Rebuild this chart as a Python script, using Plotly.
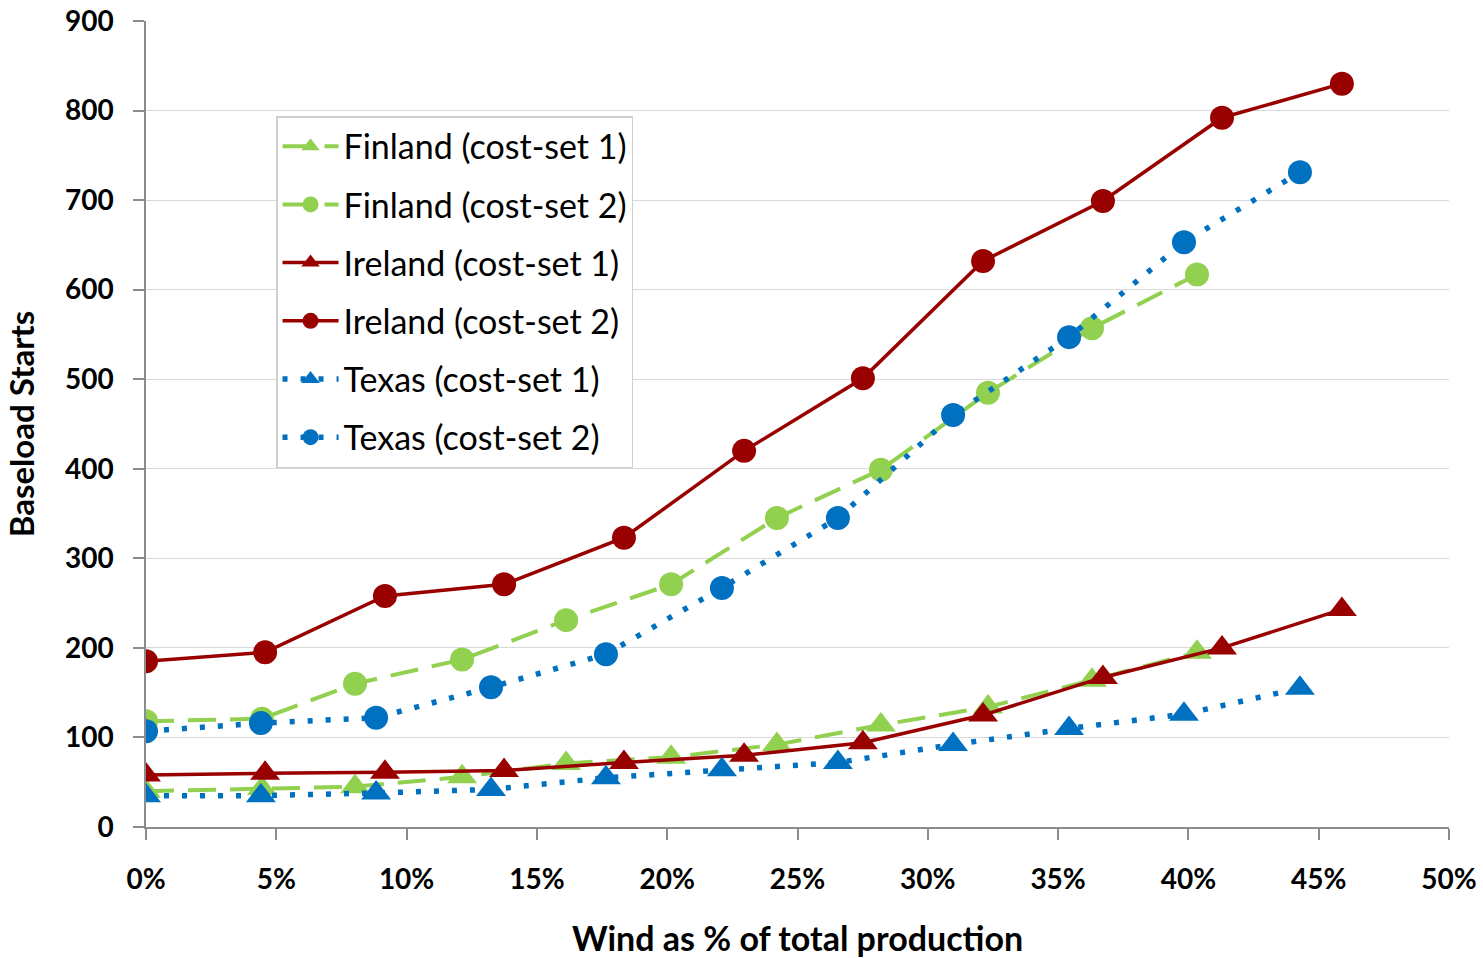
import plotly.graph_objects as go

# Wind share of total production (fraction) and baseload start counts per system
finland_x = [0.0, 0.0445, 0.0802, 0.1213, 0.1612, 0.2015, 0.2421, 0.2820, 0.3231, 0.3630, 0.4033]
finland_cs1 = [40, 43, 45, 56, 71, 78, 92, 114, 134, 164, 195]
finland_cs2 = [118, 121, 160, 187, 231, 271, 345, 399, 485, 557, 617]

ireland_x = [0.0, 0.0457, 0.0917, 0.1374, 0.1834, 0.2295, 0.2751, 0.3212, 0.3672, 0.4129, 0.4589]
ireland_cs1 = [58, 60, 61, 63, 72, 80, 94, 125, 167, 200, 243]
ireland_cs2 = [185, 195, 258, 271, 323, 420, 501, 632, 699, 792, 830]

texas_x = [0.0, 0.0441, 0.0883, 0.1324, 0.1765, 0.2210, 0.2655, 0.3097, 0.3542, 0.3983, 0.4428]
texas_cs1 = [35, 35, 38, 42, 55, 64, 72, 92, 110, 126, 155]
texas_cs2 = [107, 116, 122, 156, 193, 267, 345, 460, 547, 653, 731]

GREEN = "#92D050"
RED = "#990000"
BLUE = "#0070C0"

series = [
    ("Finland (cost-set 1)", finland_x, finland_cs1, GREEN, "triangle-up", "28px,14px", 4),
    ("Finland (cost-set 2)", finland_x, finland_cs2, GREEN, "circle", "28px,14px", 4),
    ("Ireland (cost-set 1)", ireland_x, ireland_cs1, RED, "triangle-up", "solid", 3.5),
    ("Ireland (cost-set 2)", ireland_x, ireland_cs2, RED, "circle", "solid", 3.5),
    ("Texas (cost-set 1)", texas_x, texas_cs1, BLUE, "triangle-up", "5px,13px", 5.5),
    ("Texas (cost-set 2)", texas_x, texas_cs2, BLUE, "circle", "5px,13px", 5.5),
]

fig = go.Figure()
for name, xs, ys, color, symbol, dash, width in series:
    fig.add_trace(go.Scatter(
        x=xs, y=ys, name=name, legendgroup=name,
        mode="lines+markers",
        line=dict(color=color, width=width, dash=dash),
        marker=dict(symbol=symbol, size=24 if symbol == "circle" else 26, color=color),
    ))

tick_font = dict(family="Lato", size=28, color="#000000", weight="bold")

fig.update_layout(
    width=1483, height=958,
    margin=dict(l=146, r=34, t=21, b=131),
    paper_bgcolor="white", plot_bgcolor="white",
    font=dict(family="Lato", color="#000000"),
    showlegend=True,
    legend=dict(
        x=0.0998, y=0.882, xanchor="left", yanchor="top",
        bgcolor="white", bordercolor="#D0D0D0", borderwidth=1.5,
        font=dict(family="Lato", size=34, color="#000000"),
        tracegroupgap=11, itemwidth=56,
    ),
    xaxis=dict(
        range=[0, 0.5], tickvals=[0, 0.05, 0.1, 0.15, 0.2, 0.25, 0.3, 0.35, 0.4, 0.45, 0.5],
        tickformat=".0%", showgrid=False, zeroline=False, automargin=False,
        showline=True, linecolor="#8C8C8C", linewidth=1.5,
        ticks="outside", ticklen=11, tickcolor="#8C8C8C", tickwidth=1.5,
        tickfont=tick_font, ticklabelstandoff=16,
        title=dict(text="Wind as % of total production", standoff=34,
                   font=dict(family="Lato", size=34, color="#000000", weight="bold")),
    ),
    yaxis=dict(
        range=[0, 900], dtick=100, showgrid=True, gridcolor="#D9D9D9", gridwidth=1,
        zeroline=False, showline=True, linecolor="#8C8C8C", linewidth=1.5,
        automargin=False,
        ticks="outside", ticklen=11, tickcolor="#8C8C8C", tickwidth=1.5,
        tickfont=tick_font, ticklabelstandoff=14,
        title=dict(text="Baseload Starts", standoff=20,
                   font=dict(family="Lato", size=33, color="#000000", weight="bold")),
    ),
)

fig.write_html("out.html")
